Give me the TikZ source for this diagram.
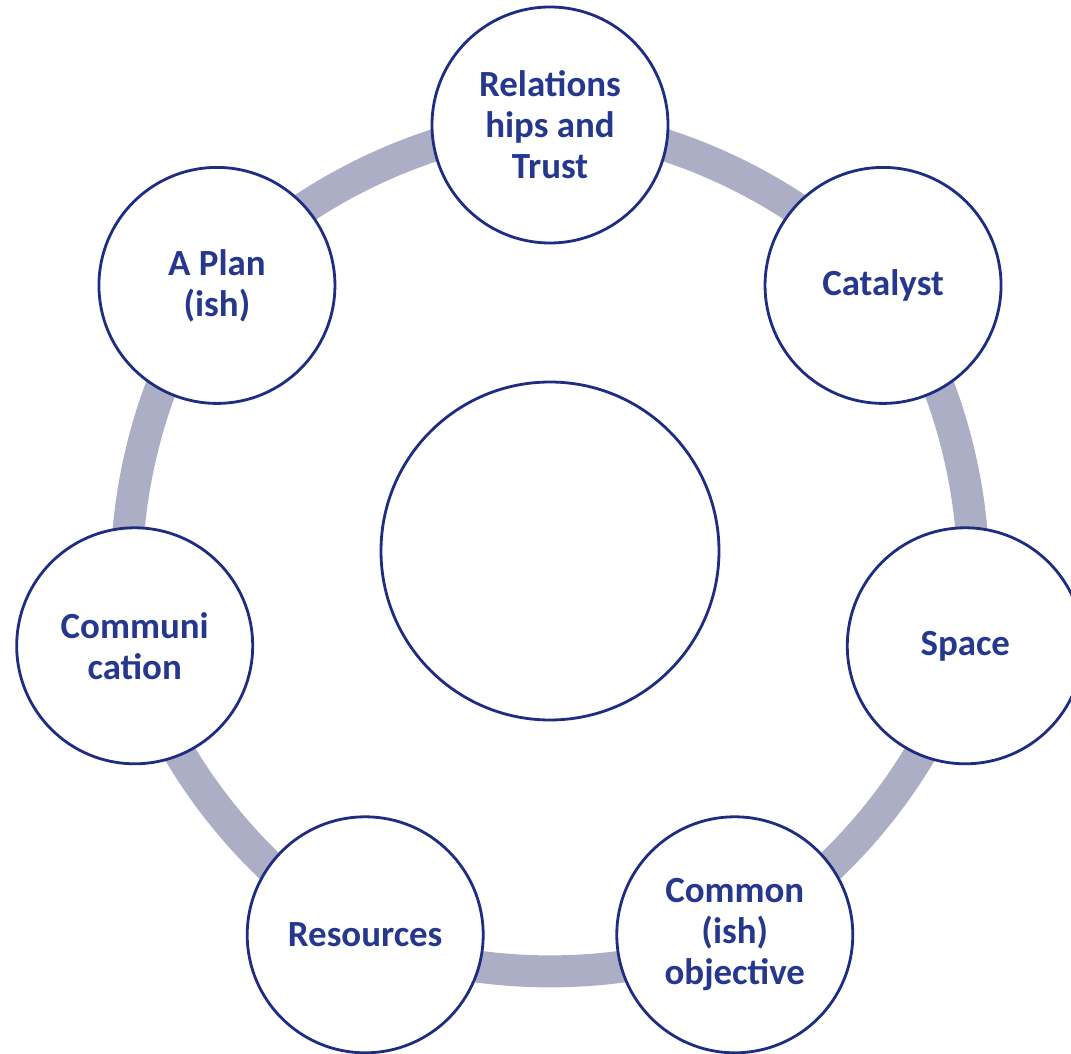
\documentclass[tikz,border=0pt]{standalone}
\usepackage{fontspec}
\setmainfont{Carlito}
\usetikzlibrary{backgrounds}
\definecolor{ringgray}{RGB}{172,174,198}
\definecolor{rimblue}{RGB}{30,45,130}
\definecolor{labelblue}{RGB}{38,56,142}

\begin{document}
\begin{tikzpicture}
        \tikzset{stage/.style = {shape=circle,draw=rimblue,line width=1.6pt,fill=white,minimum size=4.72cm,inner sep=0pt,align=center,text=labelblue,font=\fontsize{21}{23.3}\selectfont\bfseries}}
        \tikzset{hub/.style = {shape=circle,draw=rimblue,line width=1.6pt,fill=white,minimum size=6.76cm}}
        \tikzset{band/.style = {draw=ringgray,line width=0.64cm,looseness=0.78}}
        \useasboundingbox (-11.0,-10.06) rectangle (10.42,11.02);
        % centre
        \node[hub] (core) at (0,0) {};
        % stages
        \node[stage] (trust)     at (90:8.52)      {Relations\\hips and\\Trust};
        \node[stage] (catalyst)  at (38.57:8.52)   {Catalyst};
        \node[stage] (space)     at (-12.86:8.52)  {Space};
        \node[stage] (objective) at (-64.29:8.52)  {Common\\(ish)\\objective};
        \node[stage] (resources) at (-115.71:8.52) {Resources};
        \node[stage] (comms)     at (-167.14:8.52) {Communi\\cation};
        \node[stage] (plan)      at (141.43:8.52)  {A Plan\\(ish)};
        % ring
        \begin{pgfonlayer}{background}
        \draw[band] (trust.center) to[bend left=25.71] (catalyst.center);
        \draw[band] (catalyst.center) to[bend left=25.71] (space.center);
        \draw[band] (space.center) to[bend left=25.71] (objective.center);
        \draw[band] (objective.center) to[bend left=25.71] (resources.center);
        \draw[band] (resources.center) to[bend left=25.71] (comms.center);
        \draw[band] (comms.center) to[bend left=25.71] (plan.center);
        \draw[band] (plan.center) to[bend left=25.71] (trust.center);
        \end{pgfonlayer}
\end{tikzpicture}
\end{document}
